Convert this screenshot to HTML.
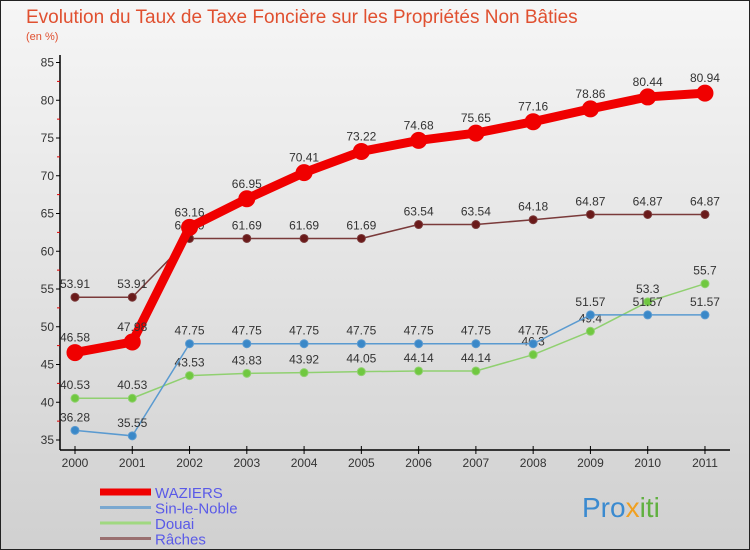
<!DOCTYPE html>
<html><head><meta charset="utf-8"><style>
body{margin:0;}
#c{width:750px;height:550px;position:relative;overflow:hidden;font-family:"Liberation Sans",sans-serif;}
</style></head><body>
<div id="c">
<svg id="s" width="750" height="550" xmlns="http://www.w3.org/2000/svg" font-family="Liberation Sans, sans-serif">
<defs><linearGradient id="bg" x1="0" y1="0" x2="0" y2="1"><stop offset="0" stop-color="#f6f6f6"/><stop offset="1" stop-color="#d0d0d0"/></linearGradient></defs>
<rect x="0.5" y="0.5" width="749" height="549" fill="url(#bg)" stroke="#222"/>
<text x="26" y="23" font-size="19" fill="#e05030">Evolution du Taux de Taxe Foncière sur les Propriétés Non Bâties</text>
<text x="26" y="40" font-size="11" fill="#e05030">(en %)</text>
<g id="axes"></g><g id="series"></g><g id="legend"></g>
<text x="582" y="517" font-size="28" fill="#3a8ad0">Pro<tspan fill="#f0a020">x</tspan><tspan fill="#60b040">iti</tspan></text>
</svg></div>
<script>
const years=[2000,2001,2002,2003,2004,2005,2006,2007,2008,2009,2010,2011];
const waziers=[46.58,47.98,63.16,66.95,70.41,73.22,74.68,75.65,77.16,78.86,80.44,80.94];
const sinLeNoble=[36.28,35.55,47.75,47.75,47.75,47.75,47.75,47.75,47.75,51.57,51.57,51.57];
const douai=[40.53,40.53,43.53,43.83,43.92,44.05,44.14,44.14,46.3,49.4,53.3,55.7];
const raches=[53.91,53.91,61.69,61.69,61.69,61.69,63.54,63.54,64.18,64.87,64.87,64.87];
const yTicks=[35,40,45,50,55,60,65,70,75,80,85];
const NS="http://www.w3.org/2000/svg";
function X(i){return 75+i*57.27;}
function Y(v){return 440-(v-35)*7.55;}
function mk(tag,at,parent,txt){const e=document.createElementNS(NS,tag);for(const k in at)e.setAttribute(k,at[k]);if(txt!==undefined)e.textContent=txt;parent.appendChild(e);return e;}
const ax=document.getElementById('axes');
let l=mk('line',{x1:60,y1:55,x2:60,y2:450,stroke:'#000','stroke-width':1.5},ax);


l=mk('line',{x1:60,y1:450,x2:730,y2:450,stroke:'#000','stroke-width':1.5},ax);


yTicks.forEach((v,i)=>{
  mk('line',{x1:56,y1:Y(v),x2:60,y2:Y(v),stroke:'#000'},ax);
  if(i<yTicks.length-1)mk('line',{x1:57,y1:Y(v+2.5),x2:60,y2:Y(v+2.5),stroke:'#d00'},ax);
  const t=mk('text',{x:54,y:Y(v)+4,'font-size':12,'text-anchor':'end',fill:'#333'},ax,v);
  
  
});
years.forEach((y,i)=>{
  mk('line',{x1:X(i),y1:446,x2:X(i),y2:454,stroke:'#000'},ax);
  const t=mk('text',{x:X(i),y:467,'font-size':12,'text-anchor':'middle',fill:'#333'},ax,y);
  
  
});
const sg=document.getElementById('series');
function series(vals,color,w,r,name,dot){
  const g=mk('g',{},sg);
  
  
  mk('polyline',{points:vals.map((v,i)=>X(i)+','+Y(v)).join(' '),fill:'none',stroke:color,'stroke-width':w,'stroke-linejoin':'round'},g);
  vals.forEach((v,i)=>{
    const c=mk('circle',{cx:X(i),cy:Y(v),r:r,fill:dot,stroke:color,'stroke-width':1},g);
    
    
    const t=mk('text',{x:X(i),y:Y(v)-9-(r>5?2:0),'font-size':12,'text-anchor':'middle',fill:'#333'},g,String(v));
    
    
  });
}
series(raches,'#7a3a3a',1.5,4,'raches','#6a1a1a');
series(douai,'#90d070',1.5,4,'douai','#70c840');
series(sinLeNoble,'#5a9ad0',1.5,4,'sin-le-noble','#3a88c8');
series(waziers,'#f00000',9,8,'waziers','#f00000');
const lg=document.getElementById('legend');
[['WAZIERS','#f00000',7],['Sin-le-Noble','#7aa8d0',3],['Douai','#a0d880',3],['Râches','#9a7070',3]].forEach((e,i)=>{
  const g=mk('g',{},lg);
  
  
  const y=492+i*15.5;
  mk('line',{x1:100,y1:y,x2:151,y2:y,stroke:e[1],'stroke-width':e[2]},g);
  mk('text',{x:155,y:y+6,'font-size':15,fill:'#5a5ae8'},g,e[0]);
});
</script>
</body></html>
